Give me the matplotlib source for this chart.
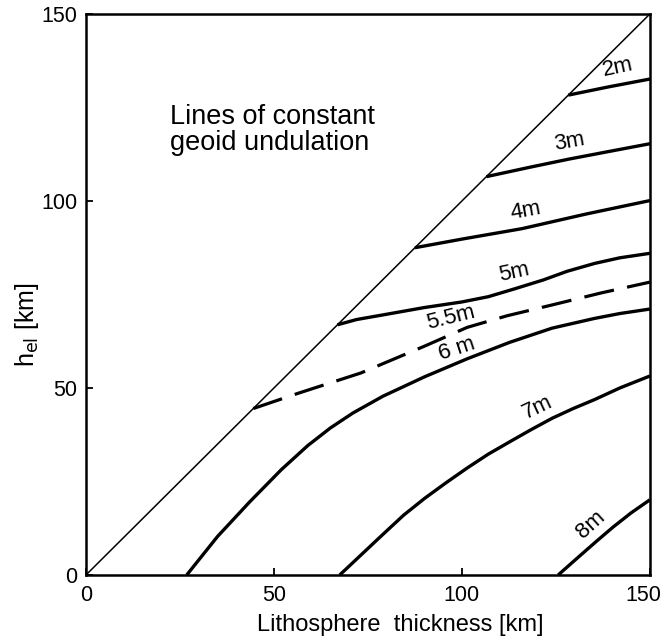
import matplotlib.pyplot as plt
from matplotlib.transforms import ScaledTranslation

plt.rcParams['font.family'] = ['Liberation Sans', 'DejaVu Sans']

# lithosphere thickness (km) vs elastic thickness h_el (km), contours of geoid undulation
diag_x = [0, 150]
diag_y = [0, 150]

x_2m = [128.3, 139.0, 150.0]
y_2m = [128.3, 130.5, 132.6]

x_3m = [106.5, 118.0, 128.5, 140.0, 150.0]
y_3m = [106.5, 109.0, 111.2, 113.4, 115.3]

x_4m = [87.5, 100.0, 116.0, 133.0, 150.0]
y_4m = [87.5, 89.8, 92.6, 96.5, 100.1]

x_5m = [66.9, 72.0, 78.8, 90.0, 100.0, 107.0, 114.0, 121.7, 128.0, 135.3, 142.0, 150.0]
y_5m = [66.9, 68.3, 69.5, 71.5, 73.0, 74.4, 76.5, 78.9, 81.2, 83.3, 84.8, 86.0]

x_55m = [44.5, 56.2, 73.1, 90.1, 101.4, 112.0, 124.0, 137.0, 150.0]
y_55m = [44.5, 48.5, 54.0, 61.2, 66.2, 69.3, 72.2, 75.4, 78.3]

x_6m = [26.8, 35.0, 43.6, 52.0, 59.0, 65.0, 71.0, 79.0, 90.1, 101.4, 112.7, 124.0, 135.3, 142.0, 150.0]
y_6m = [0.0, 10.3, 19.6, 28.2, 34.6, 39.3, 43.3, 47.8, 53.0, 57.8, 62.2, 66.0, 68.6, 69.9, 71.1]

x_7m = [67.5, 73.0, 78.5, 84.5, 90.1, 95.7, 101.4, 107.0, 112.7, 118.3, 124.0, 129.6, 135.3, 142.0, 150.0]
y_7m = [0.0, 5.2, 10.4, 16.0, 20.5, 24.6, 28.6, 32.3, 35.6, 38.8, 41.9, 44.5, 46.9, 50.0, 53.2]

x_8m = [125.6, 131.0, 136.0, 140.2, 145.0, 150.0]
y_8m = [0.0, 4.8, 9.2, 12.8, 16.6, 20.1]

fig = plt.figure(figsize=(6.65, 6.43), dpi=100)
ax = fig.add_axes([0.1293, 0.1058, 0.848, 0.8725])

ax.plot(diag_x, diag_y, color='black', lw=1.1)
for xs, ys in [(x_2m, y_2m), (x_3m, y_3m), (x_4m, y_4m), (x_5m, y_5m),
               (x_6m, y_6m), (x_7m, y_7m), (x_8m, y_8m)]:
    ax.plot(xs, ys, color='black', lw=2.4, solid_capstyle='butt', solid_joinstyle='round')
ax.plot(x_55m, y_55m, color='black', lw=2.3, dashes=(9.5, 4.2))

lab = dict(fontsize=16, color='black', ha='center', va='center')
ax.text(141.5, 135.6, '2m', rotation=12, **lab)
ax.text(128.5, 115.8, '3m', rotation=10, **lab)
ax.text(117.0, 97.4, '4m', rotation=10, **lab)
ax.text(113.8, 81.0, '5m', rotation=12, **lab)
ax.text(97.0, 68.8, '5.5m', rotation=14, **lab)
ax.text(98.6, 60.4, '6 m', rotation=18, **lab)
ax.text(120.0, 44.8, '7m', rotation=25, **lab)
ax.text(134.3, 13.4, '8m', rotation=42, **lab)

ax.text(22.3, 125.8, 'Lines of constant\ngeoid undulation', fontsize=19.5,
        ha='left', va='top', linespacing=1.0)

ax.set_xlim(0, 150)
ax.set_ylim(0, 150)
ax.set_xticks([0, 50, 100, 150])
ax.set_yticks([0, 50, 100, 150])
ax.tick_params(direction='in', length=5, width=1.3, labelsize=15.5)
ax.tick_params(axis='x', pad=7)
ax.tick_params(axis='y', pad=6)
for s in ax.spines.values():
    s.set_linewidth(1.8)

# nudge the last x tick label so it stays inside the figure
last = ax.get_xticklabels()[-1]
last.set_transform(last.get_transform() + ScaledTranslation(-5 / 72, 0, fig.dpi_scale_trans))

ax.set_xlabel('Lithosphere  thickness [km]', fontsize=17)
ax.xaxis.set_label_coords(0.557, -0.07)
ax.set_ylabel(r'h$_{\rm el}$ [km]', fontsize=18)
ax.yaxis.set_label_coords(-0.08, 0.447)

fig.savefig('out.png', dpi=100)
